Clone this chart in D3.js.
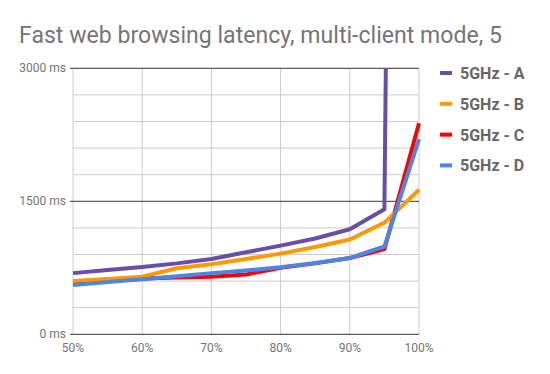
<!DOCTYPE html>
<html><head><meta charset="utf-8">
<script src="https://cdn.jsdelivr.net/npm/d3@7/dist/d3.min.js"></script>
<style>body{margin:0;background:#fff;}svg{display:block;font-family:Roboto,sans-serif;}</style>
</head><body><svg id="c" width="550" height="374"></svg>
<script>
const title = "Fast web browsing latency, multi-client mode, 5";
const percentiles = [50, 55, 60, 65, 70, 75, 80, 85, 90, 95, 100];
const seriesNames = ["5GHz - A", "5GHz - B", "5GHz - C", "5GHz - D"];
const seriesColors = ["#674ea7", "#ff9900", "#ff0000", "#4a86e8"];
const valuesA = [690, 725, 760, 800, 850, 925, 1000, 1080, 1185, 1410, 40000];
const valuesB = [600, 625, 650, 745, 790, 850, 910, 985, 1070, 1260, 1630];
const valuesC = [575, 600, 630, 640, 650, 675, 750, 800, 860, 960, 2380];
const valuesD = [555, 590, 620, 655, 690, 720, 755, 805, 860, 990, 2200];
const xTicks = [50, 60, 70, 80, 90, 100];
const yMajorTicks = [0, 1500, 3000];
const yMinorTicks = [300, 600, 900, 1200, 1800, 2100, 2400, 2700];

const drawOrder = [2, 1, 3, 0];
const allValues = [valuesA, valuesB, valuesC, valuesD];

const svg = d3.select("#c");
const x = d3.scaleLinear().domain([50, 100]).range([73, 419]);
const y = d3.scaleLinear().domain([0, 3000]).range([334.3, 68.3]);

svg.append("text").attr("x", 19).attr("y", 43).attr("fill", "#757575")
  .attr("font-size", 23).attr("textLength", 483).text(title);

// minor gridlines
svg.append("g").selectAll("line").data(yMinorTicks).join("line")
  .attr("x1", 73).attr("x2", 419).attr("y1", d => y(d)).attr("y2", d => y(d))
  .attr("stroke", "#cccccc").attr("stroke-width", 1);
svg.append("g").selectAll("line").data(xTicks).join("line")
  .attr("x1", d => x(d)).attr("x2", d => x(d)).attr("y1", y(3000)).attr("y2", y(0))
  .attr("stroke", "#cccccc").attr("stroke-width", 1);
// major gridlines
svg.append("g").selectAll("line").data(yMajorTicks).join("line")
  .attr("x1", 70).attr("x2", 419).attr("y1", d => y(d)).attr("y2", d => y(d))
  .attr("stroke", "#333333").attr("stroke-width", 1);

// y labels
svg.append("g").selectAll("text").data(yMajorTicks).join("text")
  .attr("x", 66).attr("y", d => y(d) + 4).attr("text-anchor", "end")
  .attr("fill", "#757575").attr("font-size", 12).text(d => d + " ms");
// x labels
svg.append("g").selectAll("text").data(xTicks).join("text")
  .attr("x", d => x(d)).attr("y", 352).attr("text-anchor", "middle")
  .attr("fill", "#757575").attr("font-size", 12).text(d => d + "%");

svg.append("clipPath").attr("id", "clip").append("rect")
  .attr("x", 60).attr("y", y(3000)).attr("width", 380).attr("height", y(0) - y(3000));

const line = d3.line().x((d, i) => x(percentiles[i])).y(d => y(d));
const g = svg.append("g").attr("clip-path", "url(#clip)");
drawOrder.forEach(k => {
  g.append("path").datum(allValues[k]).attr("d", line)
    .attr("fill", "none").attr("stroke", seriesColors[k]).attr("stroke-width", 4)
    .attr("stroke-linejoin", "round");
});

// legend
const leg = svg.append("g").selectAll("g").data(seriesNames).join("g")
  .attr("transform", (d, i) => `translate(0, ${73 + i * 30.8})`);
leg.append("rect").attr("x", 440).attr("y", -2).attr("width", 12).attr("height", 4)
  .attr("fill", (d, i) => seriesColors[i]);
leg.append("text").attr("x", 460).attr("y", 6).attr("fill", "#666666")
  .attr("font-size", 16).attr("font-weight", "bold").text(d => d);
</script></body></html>
